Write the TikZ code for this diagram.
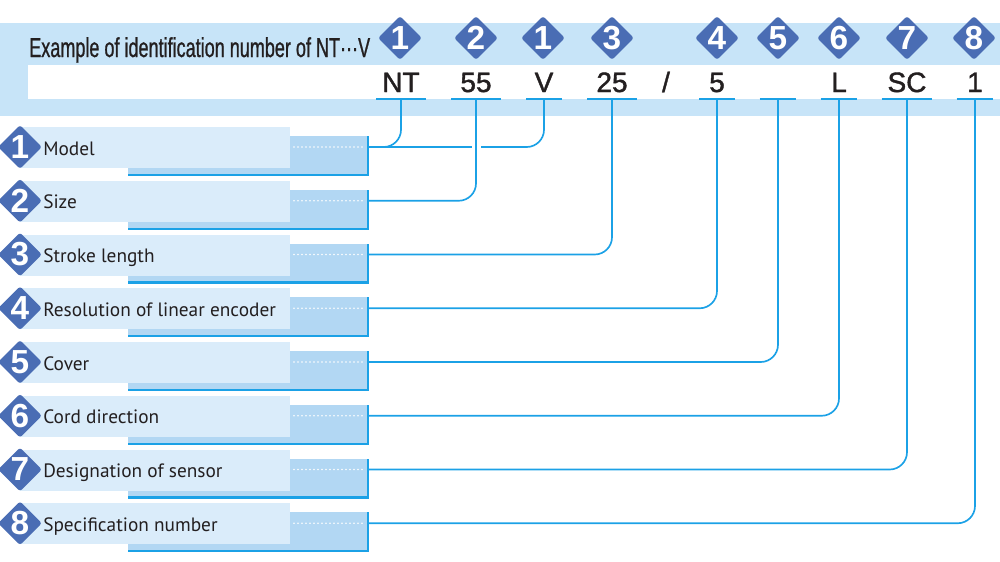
\documentclass[tikz,border=0pt]{standalone}
\usepackage{fontspec}
\setmainfont{Liberation Sans}
\newfontfamily\titlefont[FakeStretch=0.66, FakeBold=0.8]{Liberation Sans}
\newfontfamily\codefont[FakeBold=1.4]{Liberation Sans}
\newfontfamily\labelfont{PT Sans}
\usetikzlibrary{shapes.geometric, positioning}
\definecolor{band}{HTML}{C7E4F8}
\definecolor{lightbox}{HTML}{DAECFA}
\definecolor{darkbox}{HTML}{B2D7F3}
\definecolor{linkcyan}{HTML}{1BA1E6}
\definecolor{badgeblue}{HTML}{4A6DB4}
\definecolor{ink}{HTML}{231F20}

\tikzset{
    badge/.style={diamond, fill=badgeblue, minimum width=33pt, minimum height=33pt,
        inner sep=0pt, rounded corners=2pt,
        label={[text=white, font=\fontsize{25}{25}\selectfont\bfseries]center:#1}},
    slot/.style={anchor=base, inner sep=0pt, text depth=5.25pt, text=ink,
        font=\codefont\fontsize{21}{21}\selectfont, minimum width=#1},
    uline/.style={draw=linkcyan, line width=1.6pt},
    link/.style={draw=linkcyan, line width=1.25pt, rounded corners=13pt},
    gap/.style={draw=white, line width=3pt},
    rowlabel/.style={anchor=base west, inner sep=0pt, text=ink,
        font=\labelfont\fontsize{14.5}{14.5}\selectfont},
    dots/.style={draw=white, line width=1.3pt, line cap=round, dash pattern=on 0pt off 3pt},
}

\begin{document}
\begin{tikzpicture}[x=0.75pt, y=-0.75pt]
    \useasboundingbox (0,0) rectangle (1000,561);
    \fill[band] (0,23) rectangle (1000,116);
    \fill[white] (28,65) rectangle (1000,99);
    \node[anchor=base west, inner sep=0pt, text=ink, font=\titlefont\fontsize{20.5}{20.5}\selectfont]
        (title) at (29,57) {Example of identification number of NT···V};

    \foreach \n/\x in {1/400, 2/476, 1/543, 3/612, 4/717, 5/778, 6/839, 7/907, 8/974}
        \node[badge=\n] at (\x,38) {};

    \node[slot=36.75pt] (sNT) at (401,92) {NT};
    \node[slot=36.75pt] (s55) at (476,92) {55};
    \node[slot=26.25pt] (sV) at (544,92) {V};
    \node[slot=36.75pt] (s25) at (612,92) {25};
    \node[slot=0pt] (slash) at (666,92) {/};
    \node[slot=26.25pt] (s5) at (717,92) {5};
    \node[slot=27pt] (sCover) at (778,92) {};
    \node[slot=27pt] (sL) at (839,92) {L};
    \node[slot=37.5pt] (sSC) at (907,92) {SC};
    \node[slot=27pt] (s1) at (975,92) {1};
    \foreach \s in {sNT, s55, sV, s25, s5, sCover, sL, sSC, s1}
        \draw[uline] (\s.south west) -- (\s.south east);

    \foreach \i/\lab in {1/Model, 2/Size, 3/Stroke length, 4/Resolution of linear encoder,
        5/Cover, 6/Cord direction, 7/Designation of sensor, 8/Specification number} {
        \pgfmathsetmacro{\y}{147+53.75*(\i-1)}
        \fill[darkbox] (128,\y-11) rectangle (368,\y+28);
        \draw[linkcyan, line width=1.6pt] (128,\y+28) -| (368,\y-11);
        \fill[lightbox] (20,\y-20) rectangle (290,\y+21);
        \draw[dots] (294,\y) -- (364,\y);
        \node[badge=\i] (n\i) at (20,\y) {};
        \node[rowlabel] (l\i) at (43,\y+8) {\lab};
        \coordinate (r\i) at (368,\y);
    }

    \draw[link] (sNT.south) |- (r1);
    \draw[link] (sV.south) |- (r1);
    \draw[gap] (472,147) -- (481,147);
    \draw[link] (s55.south) |- (r2);
    \draw[link] (s25.south) |- (r3);
    \draw[link] (s5.south) |- (r4);
    \draw[link] (sCover.south) |- (r5);
    \draw[link] (sL.south) |- (r6);
    \draw[link] (sSC.south) |- (r7);
    \draw[link] (s1.south) |- (r8);
\end{tikzpicture}
\end{document}
